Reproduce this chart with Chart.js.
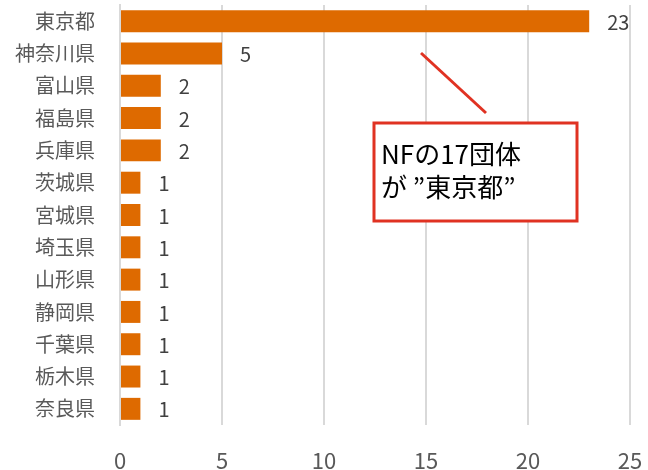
<!DOCTYPE html>
<html lang="ja">
<head>
<meta charset="utf-8">
<script src="https://cdn.jsdelivr.net/npm/chart.js@4"></script>
<style>
  html, body { margin: 0; padding: 0; background: #fff; }
  #wrap { width: 648px; height: 470px; position: relative; }
</style>
</head>
<body>
<div id="wrap"><canvas id="prefChart"></canvas></div>
<script>
// --- Data ---
const prefectures = ['東京都', '神奈川県', '富山県', '福島県', '兵庫県', '茨城県', '宮城県',
    '埼玉県', '山形県', '静岡県', '千葉県', '栃木県', '奈良県'];
const groupCounts = [23, 5, 2, 2, 2, 1, 1, 1, 1, 1, 1, 1, 1];
const xTicks = [0, 5, 10, 15, 20, 25];
const noteLines = ['NFの17団体', 'が ”東京都”'];

const FONT = '"Noto Sans CJK JP", "Noto Sans", sans-serif';

// Value labels to the right of each bar
const valueLabels = {
    id: 'valueLabels',
    afterDatasetsDraw(chart) {
        const ctx = chart.ctx;
        const meta = chart.getDatasetMeta(0);
        ctx.save();
        ctx.font = '20px ' + FONT;
        ctx.fillStyle = '#404040';
        ctx.textAlign = 'left';
        ctx.textBaseline = 'middle';
        meta.data.forEach((bar, i) => {
            ctx.fillText(String(groupCounts[i]), bar.x + 18, bar.y + 1);
        });
        ctx.restore();
    }
};

// Callout box with a pointer line
const callout = {
    id: 'callout',
    afterDraw(chart) {
        const ctx = chart.ctx;
        ctx.save();
        ctx.strokeStyle = '#E03222';
        ctx.lineWidth = 3;
        ctx.beginPath();
        ctx.moveTo(421, 53);
        ctx.lineTo(486, 113);
        ctx.stroke();
        ctx.fillStyle = '#fff';
        ctx.fillRect(374, 123, 203, 98);
        ctx.strokeRect(374, 123, 203, 98);
        ctx.fillStyle = '#000';
        ctx.font = '26px ' + FONT;
        ctx.textBaseline = 'middle';
        ctx.fillText(noteLines[0], 381, 154);
        ctx.fillText(noteLines[1], 381, 187);
        ctx.restore();
    }
};

new Chart(document.getElementById('prefChart'), {
    type: 'bar',
    data: {
        labels: prefectures,
        datasets: [{
            data: groupCounts,
            backgroundColor: '#DE6A00',
            borderWidth: 0,
            categoryPercentage: 1,
            barPercentage: 0.68
        }]
    },
    options: {
        indexAxis: 'y',
        responsive: true,
        maintainAspectRatio: false,
        animation: false,
        layout: { padding: { top: 5, right: 18, left: 0, bottom: 0 } },
        plugins: {
            legend: { display: false },
            tooltip: { enabled: false }
        },
        scales: {
            x: {
                min: 0,
                max: 25,
                afterBuildTicks(scale) {
                    scale.ticks = xTicks.map(v => ({ value: v }));
                },
                afterFit(scale) {
                    scale.height = 45;
                    scale.paddingLeft = 0;
                    scale.paddingRight = 0;
                },
                border: { display: false },
                grid: { color: '#D9D9D9', lineWidth: 2, drawTicks: false },
                ticks: {
                    color: '#595959',
                    padding: 22,
                    font: { family: FONT, size: 22 }
                }
            },
            y: {
                afterFit(scale) {
                    scale.width = 120;
                    scale.paddingTop = 0;
                    scale.paddingBottom = 0;
                },
                border: { display: true, color: '#D9D9D9', width: 2 },
                grid: { display: false },
                ticks: {
                    color: '#595959',
                    padding: 17,
                    font: { family: FONT, size: 20 }
                }
            }
        }
    },
    plugins: [valueLabels, callout]
});
</script>
</body>
</html>
